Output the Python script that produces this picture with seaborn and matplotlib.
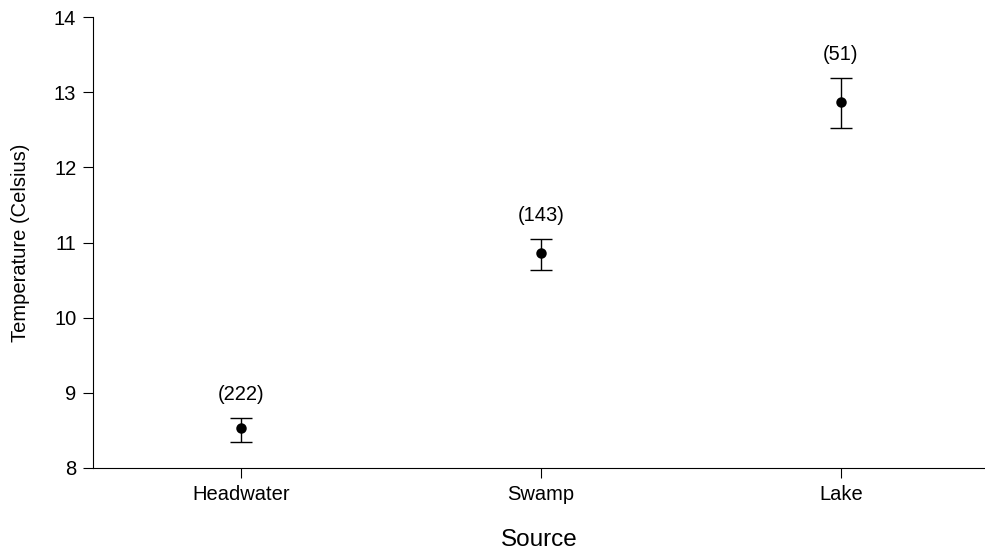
import matplotlib
matplotlib.use("Agg")
import matplotlib.pyplot as plt
import seaborn as sns
import pandas as pd

categories = ["Headwater", "Swamp", "Lake"]
means = [8.53, 10.86, 12.87]
lower = [8.35, 10.64, 12.52]
upper = [8.67, 11.05, 13.19]
counts = ["(222)", "(143)", "(51)"]
yticks = [8, 9, 10, 11, 12, 13, 14]

sns.set_style("ticks")
plt.rcParams["font.family"] = ["Liberation Sans", "DejaVu Sans"]
plt.rcParams["text.color"] = "black"
plt.rcParams["axes.labelcolor"] = "black"
plt.rcParams["xtick.color"] = "black"
plt.rcParams["ytick.color"] = "black"

df = pd.DataFrame({"Source": categories, "Temp": means})

fig = plt.figure(figsize=(9.85, 5.58), dpi=100)
ax = fig.add_axes([0.0944, 0.1613, 0.9056, 0.8082])

sns.pointplot(data=df, x="Source", y="Temp", linestyle="none", color="black",
              markers="o", markersize=5.5, errorbar=None, ax=ax)

xs = list(range(len(categories)))
yerr = [[m - l for m, l in zip(means, lower)], [u - m for m, u in zip(means, upper)]]
ax.errorbar(xs, means, yerr=yerr, fmt="none", ecolor="black", elinewidth=1.0,
            capsize=8, capthick=1.0)

for x, u, c in zip(xs, upper, counts):
    ax.annotate(c, (x, u), xytext=(0, 10), textcoords="offset points",
                ha="center", va="bottom", fontsize=14.5, color="black")

ax.set_xlim(-0.493, 2.48)
ax.set_ylim(8, 14)
ax.set_yticks(yticks)
ax.set_yticklabels([str(t) for t in yticks])
ax.tick_params(axis="both", labelsize=14.5, length=7, width=0.8, direction="out",
               color="black", pad=5, labelcolor="black")
ax.set_xlabel("Source", fontsize=17.5, labelpad=18, color="black")
ax.set_ylabel("Temperature (Celsius)", fontsize=14.5, labelpad=17, color="black")
for s in ["top", "right"]:
    ax.spines[s].set_visible(False)
for s in ["left", "bottom"]:
    ax.spines[s].set_linewidth(0.8)
    ax.spines[s].set_color("black")

fig.savefig("out.png", dpi=100)
